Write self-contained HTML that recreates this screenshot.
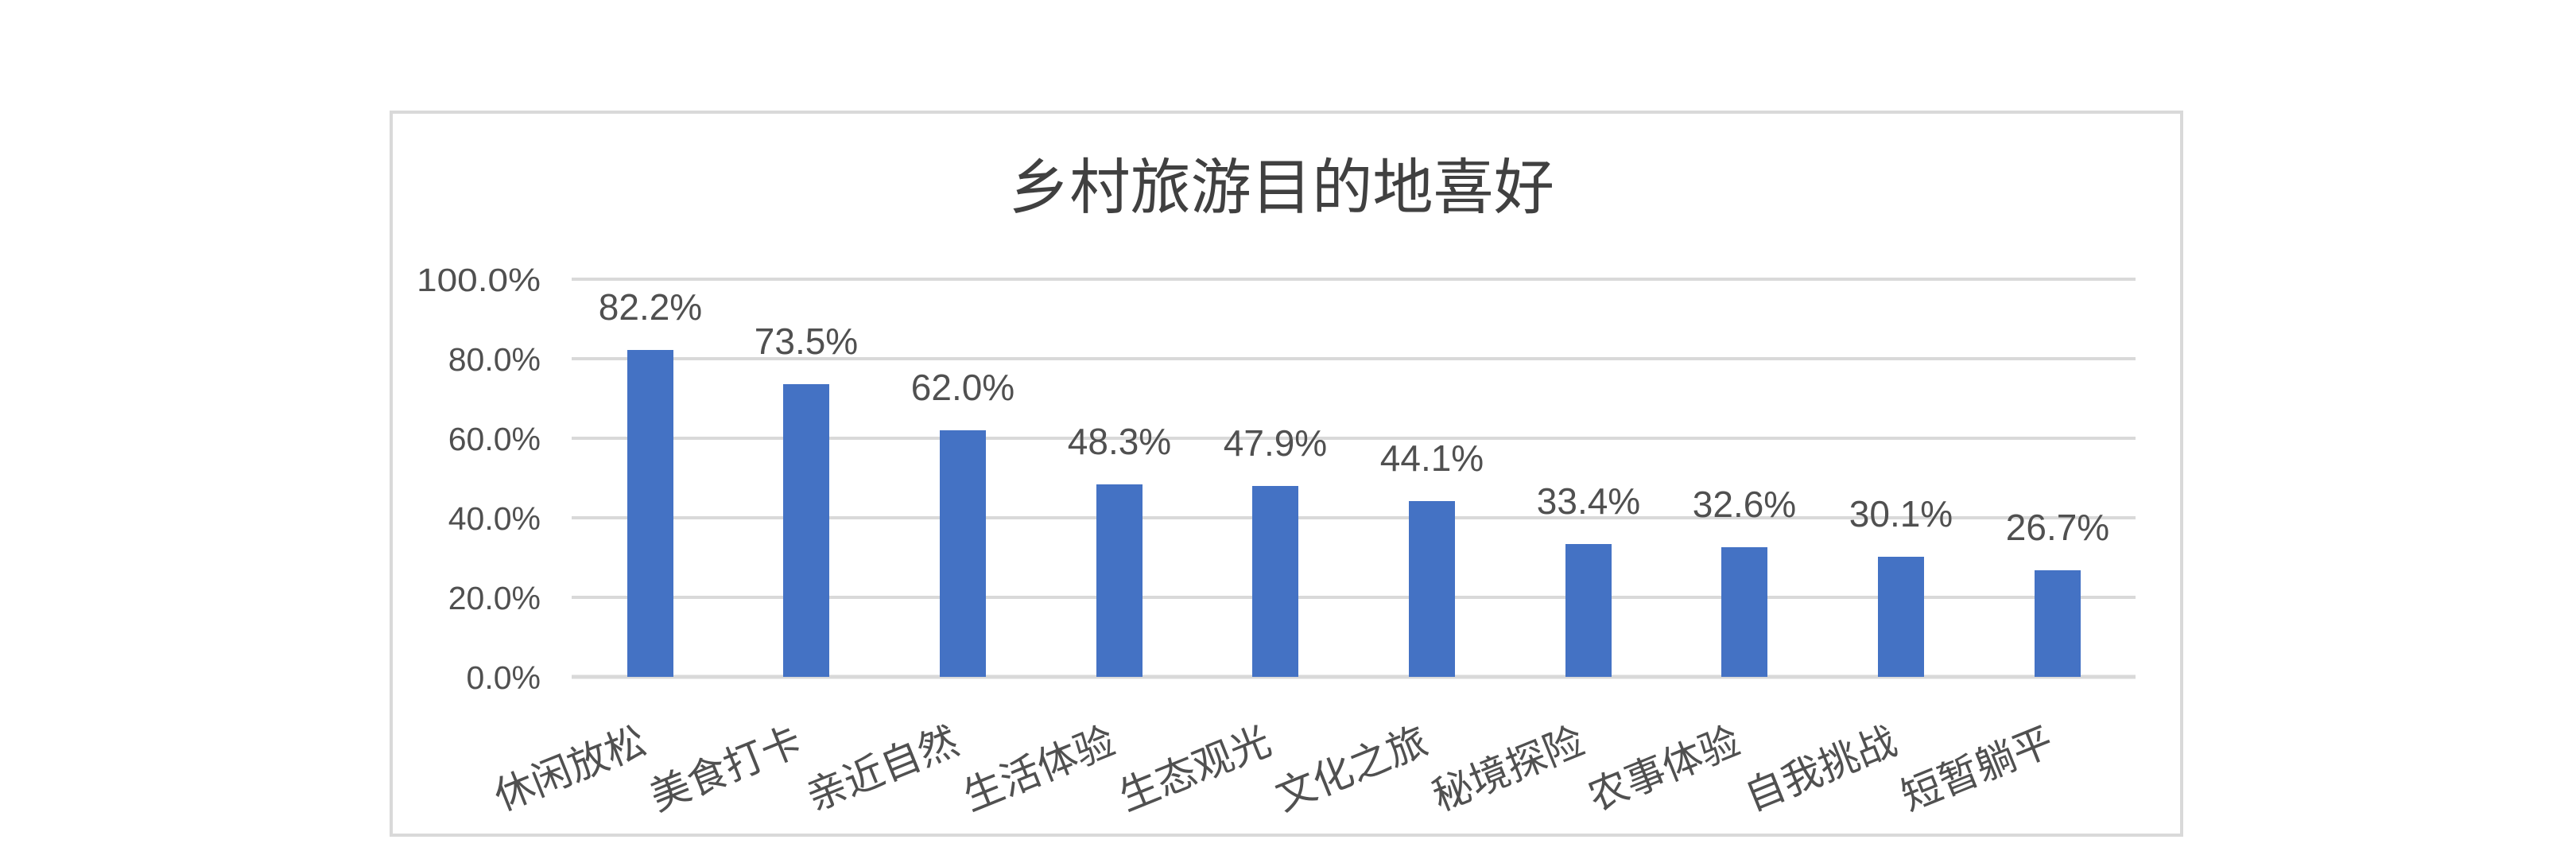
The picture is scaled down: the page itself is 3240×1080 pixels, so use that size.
<!DOCTYPE html>
<html><head><meta charset="utf-8"><style>
html,body{margin:0;padding:0;background:#fff;}
svg{display:block;}
text{font-family:"Liberation Sans","Noto Sans CJK SC",sans-serif;fill:#505050;}
</style></head><body>
<svg width="3240" height="1080" viewBox="0 0 3240 1080" xmlns="http://www.w3.org/2000/svg">
<rect x="0" y="0" width="3240" height="1080" fill="#fff"/>
<rect x="492" y="141" width="2252" height="909" fill="#fff" stroke="#d9d9d9" stroke-width="4"/>
<text x="1612" y="262" font-size="76" text-anchor="middle" textLength="686" lengthAdjust="spacingAndGlyphs" style="fill:#404040">乡村旅游目的地喜好</text>
<g stroke="#d9d9d9" stroke-width="4">
<line x1="719" y1="351" x2="2686" y2="351"/>
<line x1="719" y1="451" x2="2686" y2="451"/>
<line x1="719" y1="551" x2="2686" y2="551"/>
<line x1="719" y1="651" x2="2686" y2="651"/>
<line x1="719" y1="751" x2="2686" y2="751"/>
<line x1="719" y1="851" x2="2686" y2="851" stroke-width="5"/>
</g>
<g font-size="41" text-anchor="end">
<text x="680" y="366" textLength="156" lengthAdjust="spacingAndGlyphs">100.0%</text>
<text x="680" y="466">80.0%</text>
<text x="680" y="566">60.0%</text>
<text x="680" y="666">40.0%</text>
<text x="680" y="766">20.0%</text>
<text x="680" y="866">0.0%</text>
</g>
<g fill="#4472c4">
<rect x="789" y="440" width="58" height="411"/>
<rect x="985" y="483" width="58" height="368"/>
<rect x="1182" y="541" width="58" height="310"/>
<rect x="1379" y="609" width="58" height="242"/>
<rect x="1575" y="611" width="58" height="240"/>
<rect x="1772" y="630" width="58" height="221"/>
<rect x="1969" y="684" width="58" height="167"/>
<rect x="2165" y="688" width="58" height="163"/>
<rect x="2362" y="700" width="58" height="151"/>
<rect x="2559" y="717" width="58" height="134"/>
</g>
<g font-size="46" text-anchor="middle">
<text x="818" y="402">82.2%</text>
<text x="1014" y="445">73.5%</text>
<text x="1211" y="503">62.0%</text>
<text x="1408" y="571">48.3%</text>
<text x="1604" y="573">47.9%</text>
<text x="1801" y="592">44.1%</text>
<text x="1998" y="646">33.4%</text>
<text x="2194" y="650">32.6%</text>
<text x="2391" y="662">30.1%</text>
<text x="2588" y="679">26.7%</text>
</g>
<g font-size="50" text-anchor="end">
<text transform="translate(816,945) rotate(-22)">休闲放松</text>
<text transform="translate(1012,945) rotate(-22)">美食打卡</text>
<text transform="translate(1209,945) rotate(-22)">亲近自然</text>
<text transform="translate(1406,945) rotate(-22)">生活体验</text>
<text transform="translate(1602,945) rotate(-22)">生态观光</text>
<text transform="translate(1799,945) rotate(-22)">文化之旅</text>
<text transform="translate(1996,945) rotate(-22)">秘境探险</text>
<text transform="translate(2192,945) rotate(-22)">农事体验</text>
<text transform="translate(2389,945) rotate(-22)">自我挑战</text>
<text transform="translate(2586,945) rotate(-22)">短暂躺平</text>
</g>
</svg>
</body></html>
